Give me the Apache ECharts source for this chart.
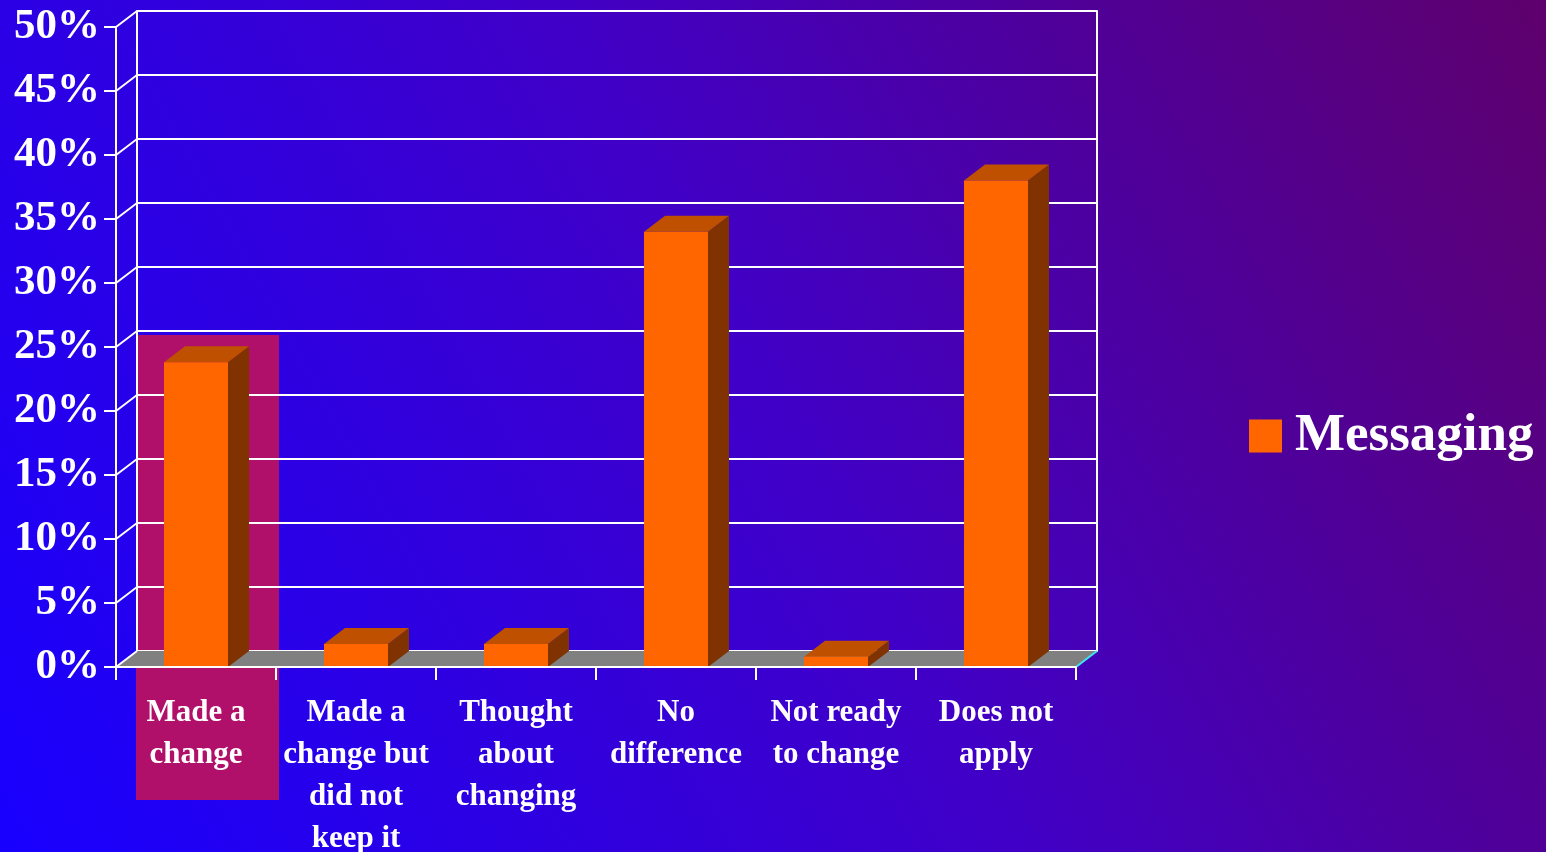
<!DOCTYPE html>
<html>
<head>
<meta charset="utf-8">
<title>Messaging</title>
<script src="https://cdn.jsdelivr.net/npm/echarts@6/dist/echarts.min.js"></script>
<style>
  html, body { margin: 0; padding: 0; width: 100%; height: 100%; overflow: hidden; }
  #chart { width: 1546px; height: 852px; }
</style>
</head>
<body>
<div id="chart"></div>
<script>
// Survey answers, share of respondents per category
const categories = [
  'Made a\nchange',
  'Made a\nchange but\ndid not\nkeep it',
  'Thought\nabout\nchanging',
  'No\ndifference',
  'Not ready\nto change',
  'Does not\napply'
];
const messaging = [0.238, 0.018, 0.018, 0.34, 0.008, 0.38];
const seriesName = 'Messaging';

// Value axis ticks (0% .. 50%)
const yMin = 0;
const yMax = 0.5;
const yStep = 0.05;
const yTicks = [0, 0.05, 0.1, 0.15, 0.2, 0.25, 0.3, 0.35, 0.4, 0.45, 0.5];

// Depth of the pseudo-3D box (back wall offset)
const DX = 21;
const DY = -16;

const FONT = '"Liberation Serif", "Times New Roman", serif';
const WHITE = '#ffffff';

const chart = echarts.init(document.getElementById('chart'));

// Floor and the diagonal connectors from the front axis to the back wall
function renderFrame(params, api) {
  const cs = params.coordSys;
  const base = api.coord([0, 0])[1];
  const left = cs.x;
  const right = cs.x + cs.width;
  const children = [
    {
      type: 'polygon',
      shape: { points: [[left, base], [right, base], [right + DX, base + DY], [left + DX, base + DY]] },
      style: { fill: '#808080' }
    },
    {
      type: 'line',
      shape: { x1: right, y1: base, x2: right + DX, y2: base + DY },
      style: { stroke: '#3fe6ee', lineWidth: 2 }
    }
  ];
  yTicks.forEach(function (v) {
    const y = api.coord([0, v])[1];
    children.push({
      type: 'line',
      shape: { x1: left, y1: y, x2: left + DX, y2: y + DY },
      style: { stroke: WHITE, lineWidth: 2 }
    });
  });
  return { type: 'group', children: children };
}

// One 3D bar: front face, top face, right side face
function renderBar(params, api) {
  const idx = api.value(0);
  const val = api.value(1);
  const band = api.size([1, 0])[0];
  const w = band * 0.4;
  const cx = api.coord([idx, 0])[0];
  const base = api.coord([idx, 0])[1];
  const top = api.coord([idx, val])[1];
  const x0 = cx - w / 2;
  const x1 = cx + w / 2;
  return {
    type: 'group',
    children: [
      {
        type: 'polygon',
        shape: { points: [[x1, top], [x1 + DX, top + DY], [x1 + DX, base + DY], [x1, base]] },
        style: { fill: '#803300' }
      },
      {
        type: 'polygon',
        shape: { points: [[x0, top], [x1, top], [x1 + DX, top + DY], [x0 + DX, top + DY]] },
        style: { fill: '#bf5000' }
      },
      {
        type: 'rect',
        shape: { x: x0, y: top, width: w, height: base - top },
        style: { fill: '#ff6600' }
      }
    ]
  };
}

const option = {
  animation: false,
  backgroundColor: new echarts.graphic.LinearGradient(0, 1, 1, 0, [
    { offset: 0, color: '#1800ff' },
    { offset: 0.5, color: '#4000c8' },
    { offset: 1, color: '#5e006c' }
  ]),
  graphic: [
    {
      // highlight box behind the first category
      type: 'rect',
      z: -10,
      silent: true,
      shape: { x: 136, y: 335, width: 143, height: 465 },
      style: { fill: '#b0106a' }
    }
  ],
  legend: {
    data: [seriesName],
    left: 1249,
    top: 404,
    padding: 0,
    icon: 'rect',
    itemWidth: 33,
    itemHeight: 33,
    textStyle: {
      color: WHITE,
      fontFamily: FONT,
      fontWeight: 'bold',
      fontSize: 53,
      lineHeight: 56,
      padding: [8, 0, 0, 8]
    }
  },
  grid: [
    { left: 116, top: 27, width: 960, height: 640, containLabel: false, outerBoundsMode: 'none' },
    { left: 116 + DX, top: 27 + DY, width: 960, height: 640, containLabel: false, outerBoundsMode: 'none' }
  ],
  xAxis: [
    {
      type: 'category',
      gridIndex: 0,
      data: categories,
      z: 6,
      axisLine: { show: true, lineStyle: { color: WHITE, width: 2 } },
      axisTick: { show: true, length: 13, lineStyle: { color: WHITE, width: 2 } },
      axisLabel: {
        interval: 0,
        margin: 25,
        color: WHITE,
        fontFamily: FONT,
        fontWeight: 'bold',
        fontSize: 31,
        lineHeight: 42,
        align: 'center',
        verticalAlign: 'top'
      },
      splitLine: { show: false }
    },
    {
      type: 'category',
      gridIndex: 1,
      data: categories,
      show: false
    }
  ],
  yAxis: [
    {
      type: 'value',
      gridIndex: 0,
      min: yMin,
      max: yMax,
      interval: yStep,
      z: 6,
      axisLine: { show: true, lineStyle: { color: WHITE, width: 2 } },
      axisTick: { show: true, length: 12, lineStyle: { color: WHITE, width: 2 } },
      axisLabel: {
        margin: 16,
        color: WHITE,
        fontFamily: FONT,
        fontWeight: 'bold',
        fontSize: 43,
        formatter: function (v) { return Math.round(v * 100) + '%'; }
      },
      splitLine: { show: false }
    },
    {
      type: 'value',
      gridIndex: 1,
      min: yMin,
      max: yMax,
      interval: yStep,
      z: 1,
      axisLine: { show: true, lineStyle: { color: WHITE, width: 2 } },
      axisTick: { show: false },
      axisLabel: { show: false },
      splitLine: { show: true, lineStyle: { color: WHITE, width: 2 } }
    },
    {
      type: 'value',
      gridIndex: 1,
      position: 'right',
      min: yMin,
      max: yMax,
      interval: yStep,
      z: 1,
      axisLine: { show: true, lineStyle: { color: WHITE, width: 2 } },
      axisTick: { show: false },
      axisLabel: { show: false },
      splitLine: { show: false }
    }
  ],
  series: [
    {
      type: 'custom',
      name: 'frame',
      xAxisIndex: 0,
      yAxisIndex: 0,
      z: 2,
      silent: true,
      renderItem: renderFrame,
      data: [[0, 0]]
    },
    {
      type: 'custom',
      name: seriesName,
      xAxisIndex: 0,
      yAxisIndex: 0,
      z: 4,
      itemStyle: { color: '#ff6600' },
      renderItem: renderBar,
      encode: { x: 0, y: 1 },
      data: messaging.map(function (v, i) { return [i, v]; })
    }
  ]
};

chart.setOption(option);
</script>
</body>
</html>
